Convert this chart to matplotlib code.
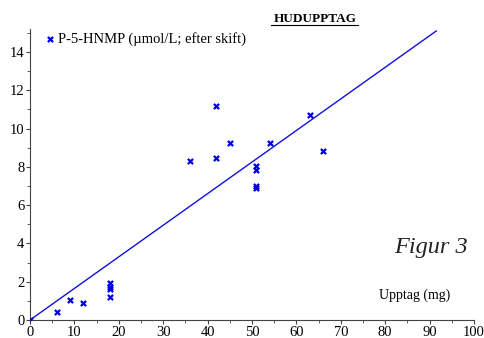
import matplotlib
matplotlib.use("Agg")
import matplotlib.pyplot as plt
from matplotlib.ticker import MultipleLocator

plt.rcParams['font.family'] = ['Liberation Serif', 'DejaVu Serif']

# Data
upptag = [0, 6, 9, 12, 18, 18, 18, 18, 36, 42, 42, 45, 51, 51, 51, 51, 54, 63, 66]
hnmp = [0, 0.43, 1.05, 0.87, 1.91, 1.74, 1.61, 1.22, 8.33, 11.18, 8.45, 9.27,
        8.02, 7.82, 7.01, 6.92, 9.27, 10.7, 8.85]
line_x = [0, 91.5]
slope = 0.165
line_y = [slope * v for v in line_x]

fig = plt.figure(figsize=(4.84, 3.38), dpi=100)
ax = fig.add_axes([30/484, 18/338, 444/484, 291/338])

ax.plot(line_x, line_y, color='#1010e0', lw=1.0, zorder=2)
ax.scatter(upptag, hnmp, marker='x', s=14, color='#0000e0', linewidths=1.6, zorder=3,
           label='P-5-HNMP (µmol/L; efter skift)')

ax.set_xlim(0, 100)
ax.set_ylim(0, 15.2)
ax.xaxis.set_major_locator(MultipleLocator(10))
ax.xaxis.set_minor_locator(MultipleLocator(5))
ax.yaxis.set_major_locator(MultipleLocator(2))
ax.yaxis.set_minor_locator(MultipleLocator(1))
for s in ['top', 'right']:
    ax.spines[s].set_visible(False)
for s in ['left', 'bottom']:
    ax.spines[s].set_color('#444444')
    ax.spines[s].set_linewidth(0.8)
ax.tick_params(which='major', length=3, width=0.8, color='#444444', labelsize=10.5, pad=1)
ax.tick_params(which='minor', length=2, width=0.6, color='#444444')

leg = ax.legend(loc='upper left', bbox_to_anchor=(0.013, 1.02), frameon=False,
                handletextpad=0.1, handlelength=0.8, fontsize=10.5, borderaxespad=0.2)

fig.text(315/484, 1 - 19/338, 'HUDUPPTAG', ha='center', va='center',
         fontsize=9.5, fontweight='bold')
# underline
fig.add_artist(plt.Line2D([271/484, 358/484], [1 - 25/338, 1 - 25/338], color='black', lw=0.8))

fig.text(468/484, 1 - 248/338, 'Figur 3', ha='right', va='center',
         fontsize=17.5, style='italic', color='#222222')
fig.text(415/484, 1 - 295/338, 'Upptag (mg)', ha='center', va='center', fontsize=10)

fig.savefig('out.png', dpi=100)
